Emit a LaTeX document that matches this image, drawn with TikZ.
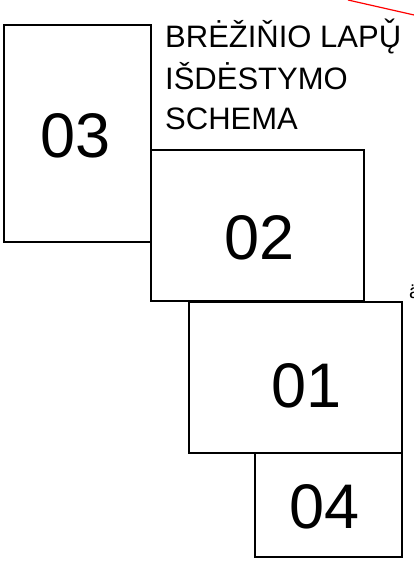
\documentclass[tikz,border=0pt]{standalone}
\usepackage{fontspec}
\setmainfont{Liberation Sans}
\usetikzlibrary{positioning}

\begin{document}
\begin{tikzpicture}[x=1pt,y=-1pt]

\useasboundingbox (0,0) rectangle (414,562);

\def\big{\fontsize{63}{63}\selectfont}
\def\title{\fontsize{31}{40}\selectfont}

% sheets
\draw[line width=1.6pt] (4,25) rectangle (151,242);
\draw[line width=1.6pt] (151,150) rectangle (364,301);
\draw[line width=1.6pt] (189,302) rectangle (402,453);
\draw[line width=1.6pt] (255,453) rectangle (402,557);

% sheet numbers
\node[font=\big] (s03) at (76,136) {03};
\node[font=\big] (s02) at (260,238) {02};
\node[font=\big] (s01) at (307,386) {01};
\node[font=\big] (s04) at (325,507) {04};

% title
\node[font=\title,anchor=base west,inner sep=0pt] (title1) at (165,47) {BRĖŽIŇIO LAP\v{Ų}};
\node[font=\title,anchor=base west,inner sep=0pt] (title2) at (165,89) {IŠDĖSTYMO};
\node[font=\title,anchor=base west,inner sep=0pt] (title3) at (165,129) {SCHEMA};

% cut off bits at the border
\draw[color=red,line width=1.2pt] (348,0)--(430,18.6);
\node[font=\fontsize{20}{20}\selectfont,anchor=base west,inner sep=0pt] (edge) at (409,298) {ä};

\end{tikzpicture}
\end{document}
